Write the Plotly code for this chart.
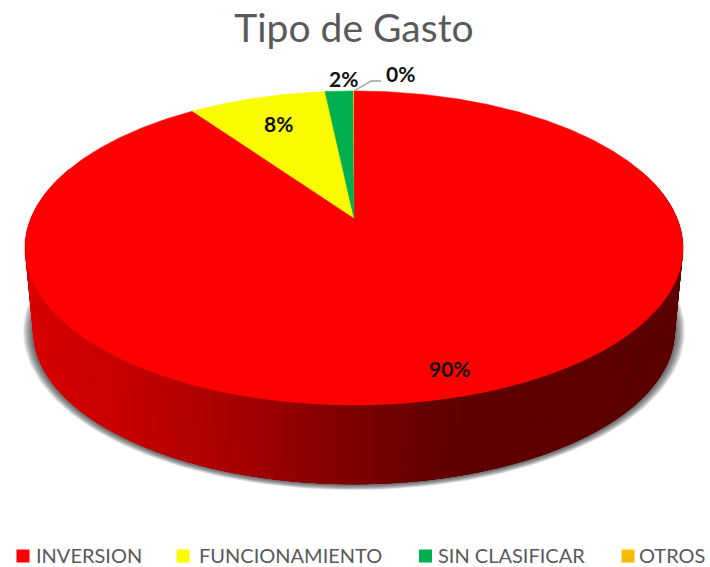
import numpy as np
import plotly.graph_objects as go

# ---- data ----
categories = ["INVERSION", "FUNCIONAMIENTO", "SIN CLASIFICAR", "OTROS"]
values = [90.2, 8.1, 1.65, 0.05]
value_labels = ["90%", "8%", "2%", "0%"]
title_text = "Tipo de Gasto"

# ---- style / layout ----
colors = ["#FF0000", "#FAFA00", "#00B050", "#FFC000"]
W, H = 710, 567
CX, CY, RX, RY, K = 354.0, 218.0, 323.0, 151.3, 0.191   # projected disc
BOT_SCALE, BOT_CY = 0.975, 302.0                        # lower rim of the disc
GREY = "#595959"
FONT = "Lato, 'Open Sans', sans-serif"
label_pos = [(450, 368), (278, 123), (343, 78), (400, 74)]
legend_marker_x = [23, 183, 425.5, 628]
legend_text_x = [36, 199, 437.5, 639]
legend_y = 556
side_stops = [(30, (216, 0, 0)), (130, (196, 0, 0)), (240, (165, 0, 0)),
              (354, (125, 0, 0)), (430, (100, 0, 0)), (490, (92, 0, 0)), (710, (92, 0, 0))]


def rim(theta_deg, scale=1.0, cy=CY):
    """theta measured clockwise from the far point of the disc."""
    t = np.radians(theta_deg)
    u, v = np.sin(t), np.cos(t)
    w = 1 + K * v
    return CX + scale * RX * u / w, cy - scale * RY * v / w


def side_color(x):
    xs = [s[0] for s in side_stops]
    rgb = [np.interp(x, xs, [s[1][i] for s in side_stops]) for i in range(3)]
    return "rgb(%d,%d,%d)" % tuple(int(round(c)) for c in rgb)


fig = go.Figure()

# soft shadow under the disc
full = np.linspace(0, 360, 241)
for t in np.linspace(1, 0, 12):
    px, py = rim(full, BOT_SCALE, BOT_CY)
    sx = (px - CX) * (1 + (0.5 + 9.5 * t) / (BOT_SCALE * RX)) + CX
    sy = (py - (BOT_CY + 29)) * (1 + (0.5 + 5.5 * t) / 158) + BOT_CY + 29
    fig.add_trace(go.Scatter(x=sx, y=sy, mode="lines", fill="toself", line=dict(width=0),
                             fillcolor="rgba(40,40,40,0.085)", hoverinfo="skip", showlegend=False))

# outer wall, shaded from left to right; each band overlaps the next
edges = np.linspace(70, 290, 221)
for a, b in zip(edges[:-1], edges[1:]):
    seg = np.linspace(a, min(b + 3, 290), 5)
    tx, ty = rim(seg)
    bx, by = rim(seg, BOT_SCALE, BOT_CY)
    c = side_color((tx[:2].mean() + bx[:2].mean()) / 2)
    fig.add_trace(go.Scatter(x=np.r_[tx, bx[::-1]], y=np.r_[ty, by[::-1]], mode="lines",
                             fill="toself", fillcolor=c, line=dict(width=0),
                             hoverinfo="skip", showlegend=False))

# top face slices
ends = np.cumsum(values) / np.sum(values) * 360
starts = np.r_[0, ends[:-1]]
for name, col, val, a, b in zip(categories, colors, values, starts, ends):
    th = np.linspace(a, b, max(3, int((b - a) * 2)))
    x, y = rim(th)
    fig.add_trace(go.Scatter(x=np.r_[CX, x, CX], y=np.r_[CY, y, CY], mode="lines", fill="toself",
                             fillcolor=col, line=dict(color=col, width=0.6 if val > 0.5 else 0),
                             name=name, showlegend=False))

# leader line of the smallest slice
lx, ly = rim(ends[-2])
fig.add_trace(go.Scatter(x=[lx + 1, 371, 381], y=[ly, 81, 81], mode="lines",
                         line=dict(color="#A6A6A6", width=1.5), hoverinfo="skip", showlegend=False))

# value labels
for txt, (x, y) in zip(value_labels, label_pos):
    fig.add_annotation(x=x, y=y - (1 if txt == "0%" else 0), xref="x", yref="y", text=txt, showarrow=False,
                       font=dict(family=FONT, size=21, color="#111111", weight="bold"))

# legend row
for name, col, mx, tx in zip(categories, colors, legend_marker_x, legend_text_x):
    marker = dict(symbol="square", size=13, color=col, line=dict(width=0))
    if name == "OTROS":
        marker.update(gradient=dict(type="vertical", color="#F0B400"))
    fig.add_trace(go.Scatter(x=[mx], y=[legend_y], mode="markers", marker=marker,
                             name=name, hoverinfo="skip", showlegend=False))
    fig.add_annotation(x=tx, y=legend_y - 1, xref="x", yref="y", text=name, showarrow=False,
                       xanchor="left", xshift=-2,
                       font=dict(family=FONT, size=20, color=GREY))

fig.update_layout(
    width=W, height=H, margin=dict(l=0, r=0, t=0, b=0),
    paper_bgcolor="white", plot_bgcolor="white", showlegend=False,
    title=dict(text=title_text, x=354 / W, y=1 - 28 / H, xanchor="center", yanchor="middle",
               font=dict(family=FONT, size=39, color=GREY)),
    xaxis=dict(range=[0, W], visible=False, fixedrange=True),
    yaxis=dict(range=[H, 0], visible=False, fixedrange=True),
)
fig.write_html("out.html", post_script="document.body.style.margin='0';", config={"displayModeBar": False})
